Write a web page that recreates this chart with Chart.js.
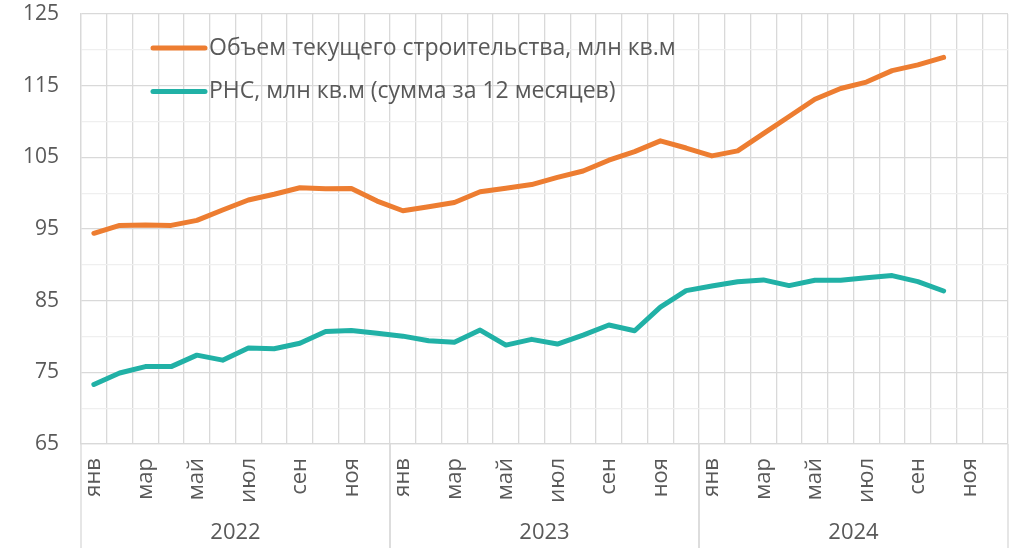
<!DOCTYPE html>
<html>
<head>
<meta charset="utf-8">
<script src="https://cdn.jsdelivr.net/npm/chart.js@4"></script>
<style>
  html, body { margin: 0; padding: 0; background: #fff; }
  #wrap { width: 1017px; height: 548px; position: relative; }
</style>
</head>
<body>
<div id="wrap"><canvas id="chart"></canvas></div>
<script>
// months / years on the x axis
const months = ['янв', 'фев', 'мар', 'апр', 'май', 'июн', 'июл', 'авг', 'сен', 'окт', 'ноя', 'дек'];
const years = ['2022', '2023', '2024'];

// Объем текущего строительства, млн кв.м (янв 2022 .. окт 2024)
const volumeSeries = [
  94.4, 95.5, 95.55, 95.5, 96.2, 97.65, 99.05, 99.85, 100.75, 100.6, 100.65, 98.9,
  97.55, 98.1, 98.7, 100.2, 100.7, 101.2, 102.2, 103.1, 104.6, 105.8, 107.3, 106.3,
  105.2, 105.9, 108.3, 110.7, 113.1, 114.6, 115.5, 117.1, 117.9, 118.95
];
// РНС, млн кв.м (сумма за 12 месяцев)
const rnsSeries = [
  73.3, 74.9, 75.8, 75.8, 77.4, 76.7, 78.4, 78.3, 79.05, 80.7, 80.85, 80.45,
  80.05, 79.4, 79.2, 80.9, 78.8, 79.6, 78.95, 80.2, 81.6, 80.8, 84.1, 86.4,
  87.05, 87.65, 87.9, 87.1, 87.85, 87.85, 88.2, 88.5, 87.65, 86.35
];

const seriesNames = ['Объем текущего строительства, млн кв.м', 'РНС, млн кв.м (сумма за 12 месяцев)'];
const yTicks = [65, 75, 85, 95, 105, 115, 125];

const labels = [];
years.forEach(y => months.forEach(m => labels.push(m)));

const FONT = "'Open Sans', sans-serif";
const TXT = '#595959';
const GRID = '#d9d9d9';

// draws the legend inside the plot and the year row under the months
const extras = {
  id: 'extras',
  afterDraw(chart) {
    const ctx = chart.ctx;
    const x = chart.scales.x;
    const area = chart.chartArea;
    ctx.save();
    // year separators and labels
    ctx.strokeStyle = GRID;
    ctx.lineWidth = 1.3;
    const n = months.length;
    const half = (x.getPixelForValue(1) - x.getPixelForValue(0)) / 2;
    years.forEach((yr, k) => {
      const left = x.getPixelForValue(k * n) - half;
      const right = x.getPixelForValue(k * n + n - 1) + half;
      ctx.beginPath();
      ctx.moveTo(left, area.bottom);
      ctx.lineTo(left, chart.height);
      ctx.moveTo(right, area.bottom);
      ctx.lineTo(right, chart.height);
      ctx.stroke();
      ctx.fillStyle = TXT;
      ctx.font = '22px ' + FONT;
      ctx.textAlign = 'center';
      ctx.textBaseline = 'middle';
      ctx.fillText(yr, (left + right) / 2, 533);
    });
    // legend
    chart.data.datasets.forEach((ds, i) => {
      const yy = 48 + i * 43.5;
      ctx.strokeStyle = ds.borderColor;
      ctx.lineWidth = 5;
      ctx.lineCap = 'round';
      ctx.beginPath();
      ctx.moveTo(153, yy);
      ctx.lineTo(205, yy);
      ctx.stroke();
      ctx.fillStyle = TXT;
      ctx.font = '23px ' + FONT;
      ctx.textAlign = 'left';
      ctx.textBaseline = 'middle';
      ctx.fillText(ds.label, 209, yy);
    });
    ctx.restore();
  }
};

new Chart(document.getElementById('chart'), {
  type: 'line',
  data: {
    labels: labels,
    datasets: [
      { label: seriesNames[0], data: volumeSeries, borderColor: '#ED7D31', borderWidth: 5, pointRadius: 0, tension: 0, borderCapStyle: 'round', borderJoinStyle: 'round' },
      { label: seriesNames[1], data: rnsSeries, borderColor: '#21B1A6', borderWidth: 5, pointRadius: 0, tension: 0, borderCapStyle: 'round', borderJoinStyle: 'round' }
    ]
  },
  options: {
    responsive: true,
    maintainAspectRatio: false,
    animation: false,
    layout: { padding: { top: 14, right: 9, left: 0, bottom: 0 } },
    plugins: {
      legend: { display: false },
      tooltip: { enabled: false }
    },
    scales: {
      x: {
        offset: true,
        grid: { offset: true, color: GRID, lineWidth: 1.3, drawTicks: false },
        border: { color: GRID, width: 1.3 },
        ticks: {
          autoSkip: false,
          maxRotation: 90,
          minRotation: 90,
          padding: 14,
          color: TXT,
          font: { family: FONT, size: 22 },
          callback: (v, i) => (i % 2 === 0 ? labels[i] : '')
        },
        afterFit: s => { s.height = 104; s.paddingLeft = 0; s.paddingRight = 0; }
      },
      y: {
        min: 65,
        max: 125,
        ticks: {
          stepSize: 5,
          color: TXT,
          padding: 22,
          font: { family: FONT, size: 21 },
          callback: v => (yTicks.includes(v) ? v : '')
        },
        grid: {
          drawTicks: false,
          lineWidth: 1.3,
          color: c => (yTicks.includes(c.tick.value) ? GRID : '#efefef')
        },
        border: { color: GRID, width: 1.3 },
        afterFit: s => { s.width = 81; s.paddingTop = 0; s.paddingBottom = 0; }
      }
    }
  },
  plugins: [extras]
});
</script>
</body>
</html>
